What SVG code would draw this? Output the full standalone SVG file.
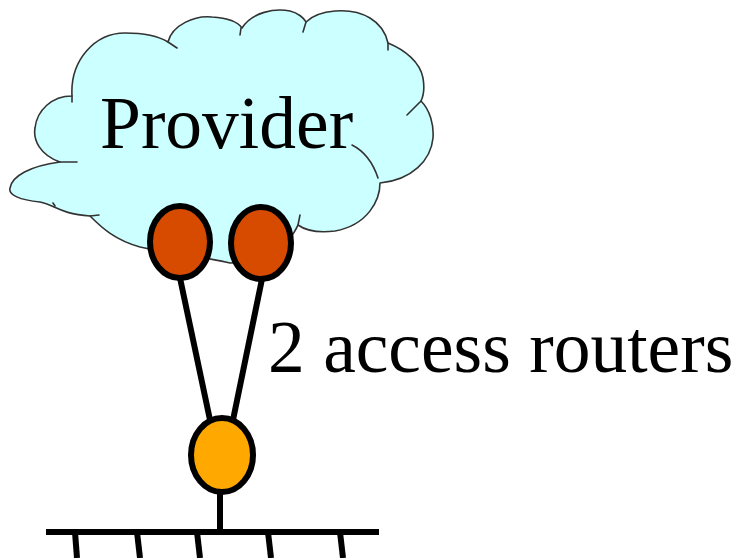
<svg xmlns="http://www.w3.org/2000/svg" width="740" height="558" viewBox="0 0 740 558">
  <style>
    .cloud { fill: #ccffff; stroke: #333333; stroke-width: 1.6; stroke-linejoin: round; }
    .notch { fill: none; stroke: #333333; stroke-width: 1.6; stroke-linecap: round; }
    .router { fill: #d64b00; stroke: #000000; stroke-width: 6; }
    .host { fill: #ffa800; stroke: #000000; stroke-width: 6; }
    .wire { fill: none; stroke: #000000; stroke-width: 6; }
    .label { font-size: 73.5px; fill: #000000; }
  </style>
  <rect width="740" height="558" fill="#ffffff"/>

  <g id="provider">
    <path class="cloud" d="M10,188 C12,176 30,166 60,162 C40,155 33,140 35,128 C37,110 52,96 72,96 C70,60 95,33 125,33 C145,33 160,37 168,42 C172,25 195,15 212,17 C228,18 238,22 242,28 C252,12 275,8 290,11 C298,13 304,18 306,22 C318,10 350,6 370,18 C380,24 386,34 388,43 C405,50 420,62 423,78 C425,90 423,97 421,101 C430,110 434,125 433,138 C431,160 412,180 380,183 C380,200 368,225 335,231 C318,233 305,230 298,225 C290,245 260,262 230,263 C200,256 170,253 140,247 C115,240 102,228 90,216 C60,214 55,205 40,202 C20,200 8,195 10,188 Z"/>
    <path class="notch" d="M60,162 L77,162 M72,96 L72,102 M168,42 L177,48 M241,28 L240,35 M306,22 L303,32 M388,43 L388,50 M421,101 L407,115 M352,145 C362,150 372,160 378,178 M298,225 L300,215 M90,216 L99,215 M53,203 L55,206"/>
    <text class="label" x="100" y="148" font-family="'Liberation Serif', 'DejaVu Serif', serif">Provider</text>
  </g>

  <g id="connectors">
    <line class="wire" x1="180" y1="278" x2="210" y2="420"/>
    <line class="wire" x1="262" y1="279" x2="233" y2="420"/>
    <line class="wire" x1="220" y1="492" x2="220" y2="532"/>
  </g>

  <g id="access-router-1">
    <ellipse class="router" cx="180" cy="242" rx="30" ry="36"/>
  </g>
  <g id="access-router-2">
    <ellipse class="router" cx="261" cy="243" rx="30" ry="36"/>
  </g>
  <g id="site-router">
    <ellipse class="host" cx="222" cy="455" rx="31" ry="37"/>
  </g>

  <g id="lan">
    <line class="wire" x1="46" y1="532" x2="379" y2="532"/>
    <line class="wire" x1="75" y1="532" x2="77" y2="558"/>
    <line class="wire" x1="137" y1="532" x2="140" y2="558"/>
    <line class="wire" x1="197" y1="532" x2="200" y2="558"/>
    <line class="wire" x1="268" y1="532" x2="271" y2="558"/>
    <line class="wire" x1="340" y1="532" x2="343" y2="558"/>
  </g>

  <g id="label-routers">
    <text class="label" x="268" y="372" font-family="'Liberation Serif', 'DejaVu Serif', serif">2 access routers</text>
  </g>
</svg>
